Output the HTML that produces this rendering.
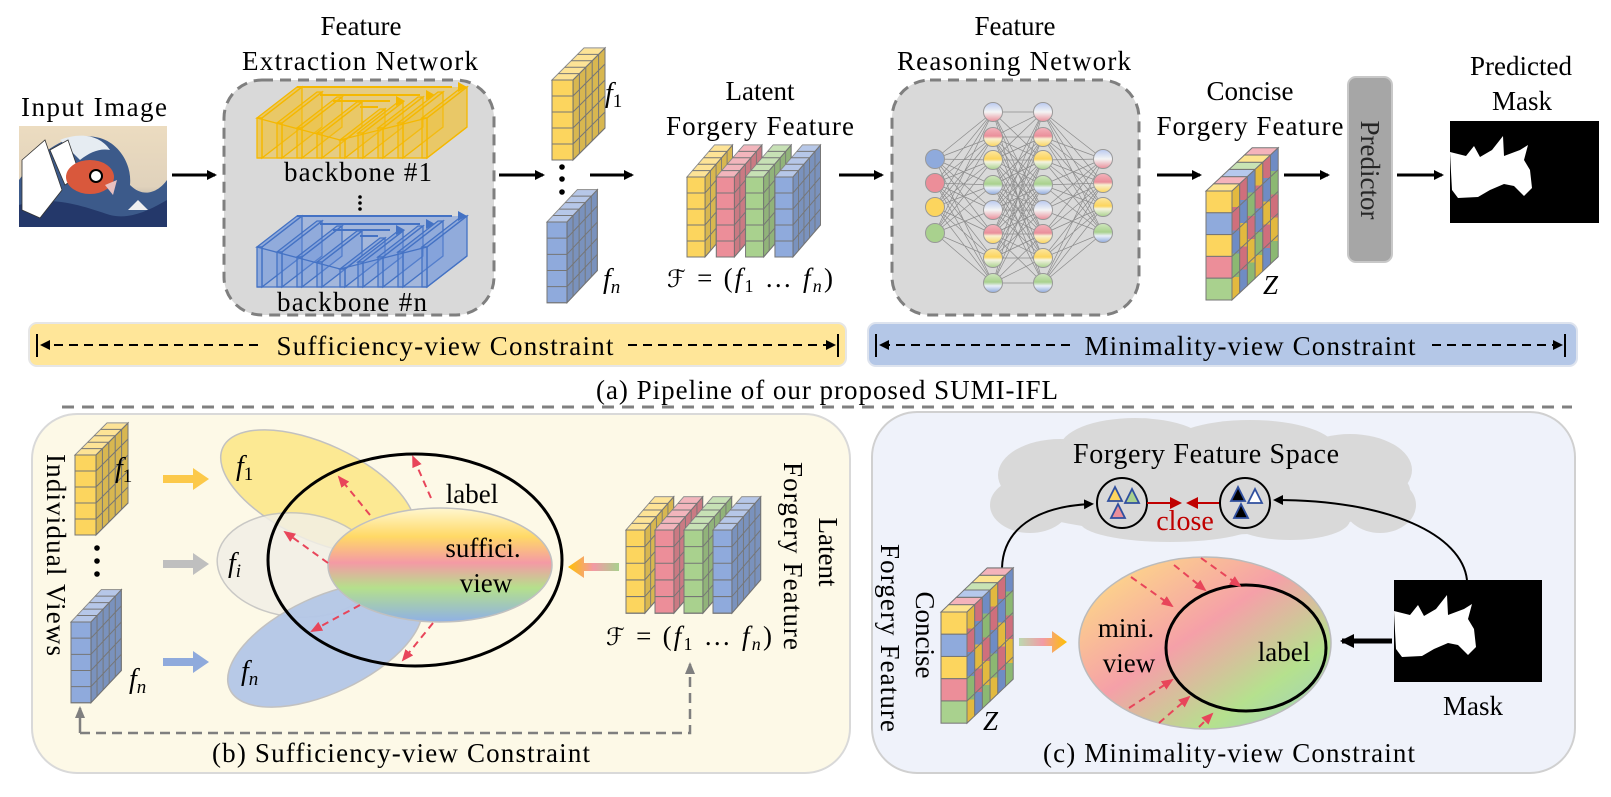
<!DOCTYPE html>
<html><head><meta charset="utf-8"><style>
html,body{margin:0;padding:0;background:#fff}
svg{display:block}
text{font-family:"Liberation Serif","DejaVu Serif",serif;fill:#000}
.it{font-style:italic}
</style></head><body>
<svg width="1611" height="797" viewBox="0 0 1611 797" xmlns="http://www.w3.org/2000/svg">
<defs>
<marker id="ab" markerWidth="10" markerHeight="10" refX="8" refY="5" orient="auto" markerUnits="userSpaceOnUse"><path d="M0,0 L10,5 L0,10 Z" fill="#000"/></marker>
<marker id="ab2" markerWidth="14" markerHeight="14" refX="12" refY="7" orient="auto" markerUnits="userSpaceOnUse"><path d="M0,0 L14,7 L0,14 Z" fill="#000"/></marker>
<marker id="ar" markerWidth="12" markerHeight="12" refX="10" refY="6" orient="auto" markerUnits="userSpaceOnUse"><path d="M0,1 L12,6 L0,11 Z" fill="#e8455a"/></marker>
<marker id="ag" markerWidth="12" markerHeight="12" refX="10" refY="6" orient="auto" markerUnits="userSpaceOnUse"><path d="M0,1 L12,6 L0,11 Z" fill="#7f7f7f"/></marker>
<marker id="ad" markerWidth="12" markerHeight="12" refX="10" refY="6" orient="auto" markerUnits="userSpaceOnUse"><path d="M0,0 L12,6 L0,12 Z" fill="#c00000"/></marker>
<linearGradient id="gbp" x1="0" y1="0" x2="0" y2="1"><stop offset="0" stop-color="#b9c9f0"/><stop offset=".5" stop-color="#f4f4f4"/><stop offset="1" stop-color="#ea8f9b"/></linearGradient>
<linearGradient id="gpy" x1="0" y1="0" x2="0" y2="1"><stop offset="0" stop-color="#f3b3bb"/><stop offset=".45" stop-color="#ea8f9b"/><stop offset=".6" stop-color="#f8f0d0"/><stop offset="1" stop-color="#fcd55e"/></linearGradient>
<linearGradient id="gyg" x1="0" y1="0" x2="0" y2="1"><stop offset="0" stop-color="#fde7a0"/><stop offset=".45" stop-color="#fcd55e"/><stop offset=".6" stop-color="#f4f4e0"/><stop offset="1" stop-color="#a9d18e"/></linearGradient>
<linearGradient id="ggb" x1="0" y1="0" x2="0" y2="1"><stop offset="0" stop-color="#cfe6bd"/><stop offset=".45" stop-color="#a9d18e"/><stop offset=".65" stop-color="#e8eef8"/><stop offset="1" stop-color="#8faadc"/></linearGradient>
<linearGradient id="gsuf" x1="0" y1="0" x2="0" y2="1"><stop offset="0" stop-color="#fff7d0"/><stop offset=".25" stop-color="#ffd966"/><stop offset=".48" stop-color="#f49aa5"/><stop offset=".7" stop-color="#b5e08c"/><stop offset="1" stop-color="#8fb0e6"/></linearGradient>
<linearGradient id="gmin" x1="0" y1="0" x2="1" y2="1"><stop offset="0" stop-color="#ffe680"/><stop offset=".45" stop-color="#f5a0a8"/><stop offset=".75" stop-color="#b5e18e"/><stop offset="1" stop-color="#9ccfc8"/></linearGradient>
<linearGradient id="garl" x1="1" y1="0" x2="0" y2="0"><stop offset="0" stop-color="#a9d18e"/><stop offset=".5" stop-color="#f29aa5"/><stop offset="1" stop-color="#ffc000"/></linearGradient>
<linearGradient id="garr" x1="0" y1="0" x2="1" y2="0"><stop offset="0" stop-color="#bcd9b0"/><stop offset=".5" stop-color="#f29aa5"/><stop offset="1" stop-color="#ffc000"/></linearGradient>
<linearGradient id="gsky" x1="0" y1="0" x2="0" y2="1"><stop offset="0" stop-color="#ecdcc0"/><stop offset=".6" stop-color="#e0d2bc"/><stop offset="1" stop-color="#7d7d80"/></linearGradient>
<linearGradient id="gz1" x1="0" y1="0" x2="0" y2="1"><stop offset="0" stop-color="#e2b93f"/><stop offset=".2" stop-color="#e2b93f"/><stop offset=".2" stop-color="#cf6f7c"/><stop offset=".4" stop-color="#cf6f7c"/><stop offset=".4" stop-color="#6f8cc4"/><stop offset=".6" stop-color="#6f8cc4"/><stop offset=".6" stop-color="#8cb872"/><stop offset=".8" stop-color="#8cb872"/><stop offset=".8" stop-color="#e2b93f"/><stop offset="1" stop-color="#e2b93f"/></linearGradient>
<linearGradient id="gz2" x1="0" y1="0" x2="0" y2="1"><stop offset="0" stop-color="#cf6f7c"/><stop offset=".2" stop-color="#cf6f7c"/><stop offset=".2" stop-color="#6f8cc4"/><stop offset=".4" stop-color="#6f8cc4"/><stop offset=".4" stop-color="#e2b93f"/><stop offset=".6" stop-color="#e2b93f"/><stop offset=".6" stop-color="#cf6f7c"/><stop offset=".8" stop-color="#cf6f7c"/><stop offset=".8" stop-color="#6f8cc4"/><stop offset="1" stop-color="#6f8cc4"/></linearGradient>
<linearGradient id="gz3" x1="0" y1="0" x2="0" y2="1"><stop offset="0" stop-color="#6f8cc4"/><stop offset=".2" stop-color="#6f8cc4"/><stop offset=".2" stop-color="#8cb872"/><stop offset=".4" stop-color="#8cb872"/><stop offset=".4" stop-color="#cf6f7c"/><stop offset=".6" stop-color="#cf6f7c"/><stop offset=".6" stop-color="#e2b93f"/><stop offset=".8" stop-color="#e2b93f"/><stop offset=".8" stop-color="#8cb872"/><stop offset="1" stop-color="#8cb872"/></linearGradient>

<g id="col" stroke="#767676" stroke-width="1">
<rect x="0" y="0" width="21" height="80"/>
<polygon points="0,0 21,0 53,-32 32,-32"/>
<polygon points="21,0 53,-32 53,48 21,80"/>
<polygon points="0,0 21,0 53,-32 32,-32" fill="#fff" fill-opacity=".35" stroke="none"/>
<polygon points="21,0 53,-32 53,48 21,80" fill="#000" fill-opacity=".14" stroke="none"/>
<path fill="none" d="M0,16H21M0,32H21M0,48H21M0,64H21M6.4,-6.4H27.4M12.8,-12.8H33.8M19.2,-19.2H40.2M25.6,-25.6H46.6M21,16L53,-16M21,32L53,0M21,48L53,16M21,64L53,32M27.4,-6.4V73.6M33.8,-12.8V67.2M40.2,-19.2V60.8M46.6,-25.6V54.4"/>
<polygon points="0,0 21,0 53,-32 53,48 21,80 0,80" fill="none"/>
</g>

<g id="zc" stroke="#767676" stroke-width="1">
<rect x="0" y="0" width="26" height="21.8" fill="#fcd55e"/>
<rect x="0" y="21.8" width="26" height="21.8" fill="#8faadc"/>
<rect x="0" y="43.6" width="26" height="21.8" fill="#fcd55e"/>
<rect x="0" y="65.4" width="26" height="21.8" fill="#ec8e99"/>
<rect x="0" y="87.2" width="26" height="21.8" fill="#a9d18e"/>
<polygon points="0,0 26,0 33.7,-7.2 7.7,-7.2" fill="#fde48f"/>
<polygon points="7.7,-7.2 33.7,-7.2 41.4,-14.4 15.4,-14.4" fill="#f4b3bb"/>
<polygon points="15.4,-14.4 41.4,-14.4 49.1,-21.6 23.1,-21.6" fill="#b5c8ec"/>
<polygon points="23.1,-21.6 49.1,-21.6 56.8,-28.8 30.8,-28.8" fill="#c8e3b4"/>
<polygon points="30.8,-28.8 56.8,-28.8 64.5,-36 38.5,-36" fill="#fde48f"/>
<polygon points="38.5,-36 64.5,-36 72.2,-43.2 46.2,-43.2" fill="#f4b3bb"/>
<polygon points="26,0 33.7,-7.2 33.7,101.8 26,109" fill="url(#gz1)"/>
<polygon points="33.7,-7.2 41.4,-14.4 41.4,94.6 33.7,101.8" fill="url(#gz2)"/>
<polygon points="41.4,-14.4 49.1,-21.6 49.1,87.4 41.4,94.6" fill="url(#gz3)"/>
<polygon points="49.1,-21.6 56.8,-28.8 56.8,80.2 49.1,87.4" fill="url(#gz1)"/>
<polygon points="56.8,-28.8 64.5,-36 64.5,73 56.8,80.2" fill="url(#gz2)"/>
<polygon points="64.5,-36 72.2,-43.2 72.2,65.8 64.5,73" fill="url(#gz3)"/>
<path fill="none" d="M26,21.8L72.2,-21.4M26,43.6L72.2,0.4M26,65.4L72.2,22.2M26,87.2L72.2,44"/>
</g>

<g id="bb">
<polygon points="257,158 257,118 297,87 467,87 467,127 427,158" stroke="none" fill-opacity=".5"/>
<polygon points="257,118 262,118 302,87 297,87"/><polygon points="262,118 302,87 302,127 262,158"/><rect x="257" y="118" width="5" height="40"/>
<polygon points="277,123 282,123 322,92 317,92"/><polygon points="282,123 322,92 322,127 282,158"/><rect x="277" y="123" width="5" height="35"/>
<polygon points="297,128 302,128 342,97 337,97"/><polygon points="302,128 342,97 342,127 302,158"/><rect x="297" y="128" width="5" height="30"/>
<polygon points="317,133 322,133 362,102 357,102"/><polygon points="322,133 362,102 362,127 322,158"/><rect x="317" y="133" width="5" height="25"/>
<polygon points="340,140 345,140 385,109 380,109"/><polygon points="345,140 385,109 385,127 345,158"/><rect x="340" y="140" width="5" height="18"/>
<polygon points="358,133 363,133 403,102 398,102"/><polygon points="363,133 403,102 403,127 363,158"/><rect x="358" y="133" width="5" height="25"/>
<polygon points="378,128 383,128 423,97 418,97"/><polygon points="383,128 423,97 423,127 383,158"/><rect x="378" y="128" width="5" height="30"/>
<polygon points="398,123 403,123 443,92 438,92"/><polygon points="403,123 443,92 443,127 403,158"/><rect x="398" y="123" width="5" height="35"/>
<polygon points="422,118 427,118 467,87 462,87"/><polygon points="427,118 467,87 467,127 427,158"/><rect x="422" y="118" width="5" height="40"/>
<polyline points="257,118 340,140 427,118" fill="none"/>
<polyline points="257,158 427,158 467,127" fill="none"/>
<path d="M297,87H452M320,95H420M333,101H390M360,107H378" fill="none" stroke-width="2"/>
</g>
</defs>

<!-- ===== TOP ROW ===== -->
<text x="94" y="116" font-size="27" text-anchor="middle" textLength="146">Input Image</text>
<g>
<rect x="19" y="126" width="148" height="101" fill="url(#gsky)"/>
<path d="M19,227 L19,180 C40,150 70,130 100,138 C120,144 132,165 130,185 C145,200 160,190 167,180 L167,227 Z" fill="#3c5a8a"/>
<path d="M19,227 L19,205 C50,195 80,205 110,215 C130,220 150,210 167,200 L167,227 Z" fill="#24386a"/>
<path d="M60,140 C80,132 100,135 110,150 C100,148 90,152 80,160 Z" fill="#e6ecf2"/>
<path d="M22,160 L45,140 L62,190 L40,218 L22,210 Z" fill="#fff" stroke="#333" stroke-width="0.8"/>
<path d="M50,150 L68,140 L80,175 L65,185 Z" fill="#fff" stroke="#333" stroke-width="0.8"/>
<ellipse cx="90" cy="177" rx="24" ry="17" fill="#d9583c"/>
<circle cx="96" cy="176" r="6" fill="#fff" stroke="#000" stroke-width="2"/>
<path d="M105,185 L117,180 L113,195 Z" fill="#e8c0c0"/>
<path d="M128,210 L138,200 L148,210 Z" fill="#f0f0f0"/>
</g>
<line x1="172" y1="175" x2="215" y2="175" stroke="#000" stroke-width="3" marker-end="url(#ab)"/>

<text x="361" y="35" font-size="27" text-anchor="middle">Feature</text>
<text x="360" y="70" font-size="27" text-anchor="middle" textLength="236">Extraction Network</text>
<rect x="224" y="80" width="270" height="235" rx="38" fill="#d9d9d9" stroke="#7f7f7f" stroke-width="3" stroke-dasharray="11 7"/>
<use href="#bb" fill="#f2c030" fill-opacity=".35" stroke="#f5b800" stroke-width="1.3"/>
<use href="#bb" transform="translate(0,129)" fill="#6f95dd" fill-opacity=".35" stroke="#4472c4" stroke-width="1.3"/>
<polygon points="458,82 458,92 467,87" fill="#f5b800"/><polygon points="426,90 426,100 435,95" fill="#f5b800"/><polygon points="396,96 396,106 405,101" fill="#f5b800"/>
<polygon points="458,211 458,221 467,216" fill="#4472c4"/><polygon points="426,219 426,229 435,224" fill="#4472c4"/><polygon points="396,225 396,235 405,230" fill="#4472c4"/>
<text x="358" y="181" font-size="27" text-anchor="middle" textLength="148">backbone #1</text>
<circle cx="360" cy="197" r="1.8"/><circle cx="360" cy="203" r="1.8"/><circle cx="360" cy="209" r="1.8"/>
<text x="352" y="311" font-size="27" text-anchor="middle" textLength="150">backbone #n</text>
<line x1="499" y1="175" x2="543" y2="175" stroke="#000" stroke-width="3" marker-end="url(#ab)"/>

<use href="#col" transform="translate(552,80)" fill="#fcd55e"/>
<use href="#col" transform="translate(547,222) scale(0.95,1.01)" fill="#8faadc"/>
<use href="#col" transform="translate(687,177) scale(0.86,1)" fill="#fcd55e"/>
<use href="#col" transform="translate(716.3,177) scale(0.86,1)" fill="#ec8e99"/>
<use href="#col" transform="translate(745.6,177) scale(0.86,1)" fill="#a9d18e"/>
<use href="#col" transform="translate(774.9,177) scale(0.86,1)" fill="#8faadc"/>
<text x="605" y="102" font-size="28" class="it">f<tspan font-size="19" dy="5" font-style="normal">1</tspan></text>
<circle cx="562" cy="167" r="2.8"/><circle cx="562" cy="179" r="2.8"/><circle cx="562" cy="192" r="2.8"/>
<text x="603" y="288" font-size="28" class="it">f<tspan font-size="19" dy="5">n</tspan></text>
<line x1="590" y1="175" x2="632" y2="175" stroke="#000" stroke-width="3" marker-end="url(#ab)"/>
<text x="760" y="100" font-size="27" text-anchor="middle">Latent</text>
<text x="760" y="135" font-size="27" text-anchor="middle" textLength="188">Forgery Feature</text>
<text x="667" y="287" font-size="27" textLength="166"><tspan font-family="DejaVu Sans" font-style="italic" font-size="24">ℱ</tspan> = (<tspan class="it">f</tspan><tspan font-size="18" dy="5">1</tspan><tspan dy="-5"> … </tspan><tspan class="it">f</tspan><tspan font-size="18" dy="5" class="it">n</tspan><tspan dy="-5">)</tspan></text>
<line x1="839" y1="175" x2="882" y2="175" stroke="#000" stroke-width="3" marker-end="url(#ab)"/>

<text x="1015" y="35" font-size="27" text-anchor="middle">Feature</text>
<text x="1014" y="70" font-size="27" text-anchor="middle" textLength="234">Reasoning Network</text>
<rect x="892" y="80" width="247" height="235" rx="38" fill="#d9d9d9" stroke="#7f7f7f" stroke-width="3" stroke-dasharray="11 7"/>
<g fill="none" stroke="#8c8c8c" stroke-width="0.7">
<path d="M935 159L993 112L935 183L993 137L935 207L993 160L935 233L993 185L935 159L993 210L935 183L993 234L935 207L993 258L935 233L993 283L935 207L993 112L935 233L993 137L935 159L993 160L935 183L993 185L935 233L993 210L935 159L993 234L935 183L993 258L935 207L993 283L935 183L993 112M935 159L993 283M935 233L993 160M935 207L993 185M935 183L993 210M935 159L993 137"/>
<path d="M1103 159L1043 112L1103 183L1043 137L1103 207L1043 160L1103 233L1043 185L1103 159L1043 210L1103 183L1043 234L1103 207L1043 258L1103 233L1043 283L1103 207L1043 112L1103 233L1043 137L1103 159L1043 160L1103 183L1043 185L1103 233L1043 210L1103 159L1043 234L1103 183L1043 258L1103 207L1043 283L1103 183L1043 112M1103 159L1043 283M1103 233L1043 160M1103 207L1043 185M1103 183L1043 210M1103 159L1043 137"/>
<path d="M993 112L1043 112L993 137L1043 137L993 160L1043 160L993 185L1043 185L993 210L1043 210L993 234L1043 234L993 258L1043 258L993 283L1043 283"/>
<path d="M993 112L1043 160L993 137L1043 185L993 160L1043 210L993 185L1043 234L993 210L1043 258L993 234L1043 283"/>
<path d="M993 283L1043 234L993 258L1043 210L993 234L1043 185L993 210L1043 160L993 185L1043 137L993 160L1043 112"/>
<path d="M993 112L1043 210L993 137L1043 234L993 160L1043 258L993 185L1043 283"/>
<path d="M993 283L1043 185L993 258L1043 160L993 234L1043 137L993 210L1043 112"/>
<path d="M993 112L1043 283M993 283L1043 112M993 137L1043 258M993 258L1043 137M993 160L1043 283M993 283L1043 160M993 112L1043 234M993 234L1043 112"/>
</g>
<g stroke="#999" stroke-width="1">
<circle cx="935" cy="159" r="9.5" fill="#8faadc"/><circle cx="935" cy="183" r="9.5" fill="#ec8e99"/><circle cx="935" cy="207" r="9.5" fill="#fcd55e"/><circle cx="935" cy="233" r="9.5" fill="#a9d18e"/>
<circle cx="993" cy="112" r="9.5" fill="url(#gbp)"/><circle cx="993" cy="137" r="9.5" fill="url(#gpy)"/><circle cx="993" cy="160" r="9.5" fill="url(#gyg)"/><circle cx="993" cy="185" r="9.5" fill="url(#ggb)"/><circle cx="993" cy="210" r="9.5" fill="url(#gbp)"/><circle cx="993" cy="234" r="9.5" fill="url(#gpy)"/><circle cx="993" cy="258" r="9.5" fill="url(#gyg)"/><circle cx="993" cy="283" r="9.5" fill="url(#ggb)"/>
<circle cx="1043" cy="112" r="9.5" fill="url(#gbp)"/><circle cx="1043" cy="137" r="9.5" fill="url(#gpy)"/><circle cx="1043" cy="160" r="9.5" fill="url(#gyg)"/><circle cx="1043" cy="185" r="9.5" fill="url(#ggb)"/><circle cx="1043" cy="210" r="9.5" fill="url(#gbp)"/><circle cx="1043" cy="234" r="9.5" fill="url(#gpy)"/><circle cx="1043" cy="258" r="9.5" fill="url(#gyg)"/><circle cx="1043" cy="283" r="9.5" fill="url(#ggb)"/>
<circle cx="1103" cy="159" r="9.5" fill="url(#gbp)"/><circle cx="1103" cy="183" r="9.5" fill="url(#gpy)"/><circle cx="1103" cy="207" r="9.5" fill="url(#gyg)"/><circle cx="1103" cy="233" r="9.5" fill="url(#ggb)"/>
</g>
<line x1="1157" y1="175" x2="1200" y2="175" stroke="#000" stroke-width="3" marker-end="url(#ab)"/>
<text x="1250" y="100" font-size="27" text-anchor="middle">Concise</text>
<text x="1250" y="135" font-size="27" text-anchor="middle" textLength="187">Forgery Feature</text>
<use href="#zc" transform="translate(1206,191)"/>
<text x="1263" y="294" font-size="27" class="it">Z</text>
<line x1="1284" y1="175" x2="1328" y2="175" stroke="#000" stroke-width="3" marker-end="url(#ab)"/>
<rect x="1348" y="77" width="44" height="185" rx="8" fill="#a6a6a6" stroke="#c8c8c8" stroke-width="2"/>
<text x="1361" y="170" font-size="27" text-anchor="middle" transform="rotate(90 1361 170)" style="fill:#262626">Predictor</text>
<line x1="1397" y1="175" x2="1442" y2="175" stroke="#000" stroke-width="3" marker-end="url(#ab)"/>
<text x="1521" y="75" font-size="27" text-anchor="middle">Predicted</text>
<text x="1522" y="110" font-size="27" text-anchor="middle">Mask</text>
<rect x="1450" y="121" width="149" height="102" fill="#000"/>
<path d="M1450,152 L1466,156 L1474,146 L1480,157 L1492,150 L1503,136 L1504,156 L1520,150 L1528,145 L1524,160 L1530,170 L1532,188 L1524,196 L1514,186 L1504,184 L1490,190 L1478,197 L1458,198 L1452,190 L1451,172 Z" fill="#fff"/>

<!-- bars -->
<rect x="29" y="323" width="817" height="43" rx="8" fill="#ffe699" stroke="#e6e6e6" stroke-width="2"/>
<line x1="37" y1="334" x2="37" y2="357" stroke="#000" stroke-width="2"/>
<line x1="258" y1="345" x2="42" y2="345" stroke="#000" stroke-width="2" stroke-dasharray="9 6" marker-end="url(#ab)"/>
<text x="445" y="355" font-size="27" text-anchor="middle" textLength="337">Sufficiency-view Constraint</text>
<line x1="628" y1="345" x2="834" y2="345" stroke="#000" stroke-width="2" stroke-dasharray="9 6" marker-end="url(#ab)"/>
<line x1="838" y1="334" x2="838" y2="357" stroke="#000" stroke-width="2"/>
<rect x="868" y="323" width="709" height="43" rx="8" fill="#b4c7e7" stroke="#dde3ee" stroke-width="2"/>
<line x1="876" y1="334" x2="876" y2="357" stroke="#000" stroke-width="2"/>
<line x1="1070" y1="345" x2="881" y2="345" stroke="#000" stroke-width="2" stroke-dasharray="9 6" marker-end="url(#ab)"/>
<text x="1250" y="355" font-size="27" text-anchor="middle" textLength="331">Minimality-view Constraint</text>
<line x1="1432" y1="345" x2="1561" y2="345" stroke="#000" stroke-width="2" stroke-dasharray="9 6" marker-end="url(#ab)"/>
<line x1="1565" y1="334" x2="1565" y2="357" stroke="#000" stroke-width="2"/>
<text x="827" y="399" font-size="27" text-anchor="middle" textLength="462">(a) Pipeline of our proposed SUMI-IFL</text>
<line x1="62" y1="407" x2="1572" y2="407" stroke="#808080" stroke-width="3" stroke-dasharray="12 8"/>

<!-- ===== PANEL B ===== -->
<rect x="32" y="414" width="818" height="359" rx="45" fill="#fdf9e7" stroke="#d9d9d9" stroke-width="2"/>
<use href="#col" transform="translate(75,455)" fill="#fcd55e"/>
<use href="#col" transform="translate(71,622) scale(0.95,1.01)" fill="#8faadc"/>
<use href="#col" transform="translate(626,530) scale(0.9,1.04)" fill="#fcd55e"/>
<use href="#col" transform="translate(655,530) scale(0.9,1.04)" fill="#ec8e99"/>
<use href="#col" transform="translate(684,530) scale(0.9,1.04)" fill="#a9d18e"/>
<use href="#col" transform="translate(713,530) scale(0.9,1.04)" fill="#8faadc"/>
<text x="115" y="477" font-size="28" class="it">f<tspan font-size="19" dy="5" font-style="normal">1</tspan></text>
<circle cx="97" cy="548" r="2.8"/><circle cx="97" cy="561" r="2.8"/><circle cx="97" cy="574" r="2.8"/>
<text x="129" y="688" font-size="28" class="it">f<tspan font-size="19" dy="5">n</tspan></text>
<text x="47" y="555" font-size="27" text-anchor="middle" textLength="202" transform="rotate(90 47 555)">Individual Views</text>
<polygon points="163,475 193,475 193,468 209,479 193,490 193,483 163,483" fill="#fcc94a"/>
<polygon points="163,560 193,560 193,553 209,564 193,575 193,568 163,568" fill="#bfbfbf"/>
<polygon points="163,658 193,658 193,651 209,662 193,673 193,666 163,666" fill="#8faadc"/>
<ellipse cx="318" cy="492" rx="105" ry="48" transform="rotate(25 318 492)" fill="#fce98f" stroke="#bfbfbf" stroke-width="1.5" opacity=".95"/>
<ellipse cx="297" cy="565" rx="80" ry="52" transform="rotate(5 297 565)" fill="#f2efe6" stroke="#c0c0c0" stroke-width="1.5" opacity=".85"/>
<ellipse cx="325" cy="645" rx="105" ry="48" transform="rotate(-25 325 645)" fill="#b4c7e7" stroke="#bfbfbf" stroke-width="1.5" opacity=".95"/>
<ellipse cx="440" cy="565" rx="112" ry="57" fill="url(#gsuf)" stroke="#c0c0c0" stroke-width="1.5"/>
<ellipse cx="415" cy="560" rx="147" ry="106" fill="none" stroke="#000" stroke-width="3"/>
<text x="236" y="475" font-size="28" class="it">f<tspan font-size="19" dy="5" font-style="normal">1</tspan></text>
<text x="228" y="572" font-size="28" class="it">f<tspan font-size="19" dy="5">i</tspan></text>
<text x="241" y="680" font-size="28" class="it">f<tspan font-size="19" dy="5">n</tspan></text>
<text x="472" y="503" font-size="27" text-anchor="middle">label</text>
<text x="483" y="557" font-size="27" text-anchor="middle">suffici.</text>
<text x="486" y="592" font-size="27" text-anchor="middle">view</text>
<g stroke="#e8455a" stroke-width="2" stroke-dasharray="7 5" fill="none">
<line x1="370" y1="515" x2="339" y2="477" marker-end="url(#ar)"/>
<line x1="431" y1="498" x2="413" y2="457" marker-end="url(#ar)"/>
<line x1="328" y1="563" x2="285" y2="532" marker-end="url(#ar)"/>
<line x1="360" y1="605" x2="312" y2="631" marker-end="url(#ar)"/>
<line x1="433" y1="623" x2="403" y2="660" marker-end="url(#ar)"/>
</g>
<polygon points="619,563 584,563 584,556 568,567 584,578 584,571 619,571" fill="url(#garl)"/>
<text x="819" y="552" font-size="27" text-anchor="middle" transform="rotate(90 819 552)">Latent</text>
<text x="784" y="556" font-size="27" text-anchor="middle" textLength="188" transform="rotate(90 784 556)">Forgery Feature</text>
<text x="606" y="645" font-size="27" textLength="166"><tspan font-family="DejaVu Sans" font-style="italic" font-size="24">ℱ</tspan> = (<tspan class="it">f</tspan><tspan font-size="18" dy="5">1</tspan><tspan dy="-5"> … </tspan><tspan class="it">f</tspan><tspan font-size="18" dy="5" class="it">n</tspan><tspan dy="-5">)</tspan></text>
<path d="M80,733 H690 V664" fill="none" stroke="#7f7f7f" stroke-width="2.5" stroke-dasharray="10 6" marker-end="url(#ag)"/>
<path d="M80,733 V708" fill="none" stroke="#7f7f7f" stroke-width="2.5" marker-end="url(#ag)"/>
<text x="401" y="762" font-size="27" text-anchor="middle" textLength="378">(b) Sufficiency-view Constraint</text>

<!-- ===== PANEL C ===== -->
<rect x="872" y="412" width="703" height="361" rx="45" fill="#eff2fa" stroke="#d0d0d0" stroke-width="2"/>
<g fill="#d9d9d9">
<ellipse cx="1205" cy="490" rx="205" ry="45"/>
<ellipse cx="1060" cy="475" rx="62" ry="36"/>
<ellipse cx="1030" cy="505" rx="40" ry="28"/>
<ellipse cx="1135" cy="448" rx="75" ry="30"/>
<ellipse cx="1250" cy="448" rx="85" ry="28"/>
<ellipse cx="1350" cy="470" rx="62" ry="36"/>
<ellipse cx="1380" cy="505" rx="36" ry="28"/>
<ellipse cx="1170" cy="522" rx="90" ry="20"/>
<ellipse cx="1290" cy="520" rx="60" ry="20"/>
</g>
<text x="1206" y="463" font-size="28" text-anchor="middle" textLength="266">Forgery Feature Space</text>
<circle cx="1122" cy="503" r="25" fill="none" stroke="#000" stroke-width="2"/>
<circle cx="1245" cy="503" r="25" fill="none" stroke="#000" stroke-width="2"/>
<g stroke="#2f4f9f" stroke-width="1.8">
<polygon points="1115,487 1108,501 1122,501" fill="#fcd55e"/>
<polygon points="1132,489 1125,503 1139,503" fill="#a9d18e"/>
<polygon points="1118,504 1111,518 1125,518" fill="#ea8f9b"/>
<polygon points="1238,487 1231,501 1245,501" fill="#000"/>
<polygon points="1255,489 1248,503 1262,503" fill="#fff"/>
<polygon points="1241,504 1234,518 1248,518" fill="#000"/>
</g>
<line x1="1147" y1="503" x2="1180" y2="503" stroke="#c00000" stroke-width="2" marker-end="url(#ad)"/>
<line x1="1219" y1="503" x2="1188" y2="503" stroke="#c00000" stroke-width="2" marker-end="url(#ad)"/>
<text x="1185" y="530" font-size="28" text-anchor="middle" style="fill:#c00000">close</text>
<path d="M1002,568 C1003,530 1035,506 1092,504" fill="none" stroke="#000" stroke-width="2" marker-end="url(#ab)"/>
<path d="M1467,580 C1462,535 1390,500 1275,500" fill="none" stroke="#000" stroke-width="2" marker-end="url(#ab)"/>
<use href="#zc" transform="translate(941,612) scale(1,1.02)"/>
<text x="983" y="730" font-size="27" class="it">Z</text>
<text x="916" y="635" font-size="27" text-anchor="middle" transform="rotate(90 916 635)">Concise</text>
<text x="881" y="638" font-size="27" text-anchor="middle" textLength="188" transform="rotate(90 881 638)">Forgery Feature</text>
<polygon points="1019,638 1052,638 1052,631 1067,642 1052,653 1052,646 1019,646" fill="url(#garr)"/>
<ellipse cx="1205" cy="643" rx="126" ry="86" fill="url(#gmin)" stroke="#bbb" stroke-width="1.5"/>
<ellipse cx="1246" cy="648" rx="80" ry="63" fill="none" stroke="#000" stroke-width="3"/>
<text x="1126" y="637" font-size="27" text-anchor="middle">mini.</text>
<text x="1129" y="672" font-size="27" text-anchor="middle">view</text>
<text x="1284" y="661" font-size="27" text-anchor="middle">label</text>
<g stroke="#e8455a" stroke-width="2" stroke-dasharray="7 5" fill="none">
<line x1="1131" y1="577" x2="1172" y2="606" marker-end="url(#ar)"/>
<line x1="1174" y1="565" x2="1205" y2="590" marker-end="url(#ar)"/>
<line x1="1201" y1="558" x2="1240" y2="586" marker-end="url(#ar)"/>
<line x1="1129" y1="708" x2="1172" y2="680" marker-end="url(#ar)"/>
<line x1="1159" y1="723" x2="1189" y2="697" marker-end="url(#ar)"/>
<line x1="1199" y1="727" x2="1212" y2="714" marker-end="url(#ar)"/>
</g>
<line x1="1392" y1="641" x2="1342" y2="641" stroke="#000" stroke-width="5" marker-end="url(#ab2)"/>
<rect x="1394" y="580" width="148" height="102" fill="#000"/>
<path transform="translate(-56,459)" d="M1450,152 L1466,156 L1474,146 L1480,157 L1492,150 L1503,136 L1504,156 L1520,150 L1528,145 L1524,160 L1530,170 L1532,188 L1524,196 L1514,186 L1504,184 L1490,190 L1478,197 L1458,198 L1452,190 L1451,172 Z" fill="#fff"/>
<text x="1473" y="715" font-size="27" text-anchor="middle">Mask</text>
<text x="1229" y="762" font-size="27" text-anchor="middle" textLength="372">(c) Minimality-view Constraint</text>
</svg>
</body></html>
